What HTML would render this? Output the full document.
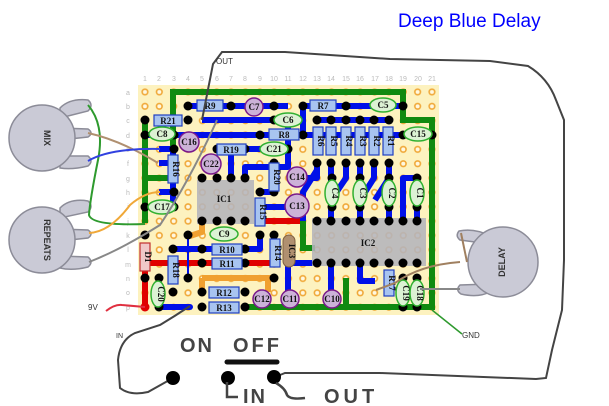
<!DOCTYPE html>
<html><head><meta charset="utf-8"><style>
html,body{margin:0;padding:0;background:#fff;width:609px;height:406px;overflow:hidden}
svg{display:block}
.r{fill:#a8c4f0;stroke:#2040c0;stroke-width:1.2}
.c{fill:#dcf2d4;stroke:#30b030;stroke-width:1.5}
.e{fill:#ccb2d8;stroke:#7a1a8a;stroke-width:1.5}
.t{font-family:"Liberation Serif",serif;font-size:9px;font-weight:bold;fill:#111;text-anchor:middle}
.p{fill:#000}
.n{font-family:"Liberation Sans",sans-serif;font-size:7px;fill:#bbb;text-anchor:middle}
.pot{fill:#cacad6;stroke:#8c8c98;stroke-width:1.5}
.bl{stroke:#0010e8;stroke-width:6;fill:none;stroke-linejoin:round}
.gr{stroke:#108a10;stroke-width:6;fill:none}
.rd{stroke:#e00000;stroke-width:6;fill:none}
.or{stroke:#f0a030;stroke-width:6;fill:none}
.w{fill:none;stroke-width:2}
</style></head><body>
<svg width="609" height="406" viewBox="0 0 609 406" xmlns="http://www.w3.org/2000/svg">
<defs>
<pattern id="h" x="137.8" y="84.8" width="14.35" height="14.35" patternUnits="userSpaceOnUse">
<rect width="14.35" height="14.35" fill="#fdf2bf"/>
<circle cx="7.17" cy="7.17" r="2.8" fill="#fff8e0" stroke="#f0a838" stroke-width="1.6"/>
</pattern>
</defs>
<text x="398" y="27" font-family="'Liberation Sans',sans-serif" font-size="19" fill="#0000ff">Deep Blue Delay</text>

<rect x="138" y="85" width="301" height="230" fill="url(#h)"/>
<g class="n">
<text x="145" y="81">1</text><text x="159" y="81">2</text><text x="174" y="81">3</text><text x="188" y="81">4</text><text x="202" y="81">5</text><text x="217" y="81">6</text><text x="231" y="81">7</text><text x="245" y="81">8</text><text x="260" y="81">9</text><text x="274" y="81">10</text><text x="288" y="81">11</text><text x="303" y="81">12</text><text x="317" y="81">13</text><text x="331" y="81">14</text><text x="346" y="81">15</text><text x="360" y="81">16</text><text x="375" y="81">17</text><text x="389" y="81">18</text><text x="403" y="81">19</text><text x="418" y="81">20</text><text x="432" y="81">21</text>
<text x="128" y="95">a</text><text x="128" y="109">b</text><text x="128" y="123">c</text><text x="128" y="138">d</text><text x="128" y="152">e</text><text x="128" y="166">f</text><text x="128" y="181">g</text><text x="128" y="195">h</text><text x="128" y="209">i</text><text x="128" y="224">j</text><text x="128" y="238">k</text><text x="128" y="252">l</text><text x="128" y="267">m</text><text x="128" y="281">n</text><text x="128" y="295">o</text><text x="128" y="310">p</text>
</g>

<path class="gr" d="M173,110 V92 H403 V120 H432 V307 H243"/>
<path class="gr" d="M173,92 V178 H145"/>
<path class="gr" d="M145,120 V223"/>
<path class="gr" d="M303,200 V248 H315"/>
<path class="gr" d="M346,278 V307"/>
<path class="rd" d="M145,263 H278"/>
<path class="rd" d="M145,268 V307"/>
<path class="rd" d="M258,221 H297 V210"/>
<path class="or" d="M202,278 H268 V292"/>
<path class="or" d="M202,278 V292"/>
<path class="or" d="M202,222 V232 L190,236"/>
<g class="bl">
<path d="M188,106 H288"/>
<path d="M202,120 H288"/>
<path d="M145,135 H403"/>
<path d="M303,106 H403"/>
<path d="M303,106 V135"/>
<path d="M317,120 H389"/>
<path d="M173,149 V207"/>
<path d="M159,149 H173"/>
<path d="M159,163 H173"/>
<path d="M159,192 H173"/>
<path d="M231,149 V178"/>
<path d="M245,149 H288"/>
<path d="M288,120 V167 H245 V178"/>
<path d="M274,163 V192 H260"/>
<path d="M288,178 H317 V163"/>
<path d="M317,163 V170 L303,192 V221"/>
<path d="M331,163 V221"/>
<path d="M346,163 V178 L331,200"/>
<path d="M360,163 V221"/>
<path d="M374,163 V178 L360,200"/>
<path d="M389,163 V221"/>
<path d="M417,178 H403 V221"/>
<path d="M417,178 V221"/>
<path d="M297,198 L285,207 H260"/>
<path d="M173,249 H260 V235"/>
<path d="M159,307 H190"/>
<path d="M293,263 H317"/>
<path d="M288,250 V300"/>
<path d="M331,263 V300"/>
<path d="M360,263 V281 H375"/>
<path d="M389,178 L375,200"/>
</g>
<path d="M188,235 V278" stroke="#0010e8" stroke-width="2"/>

<rect x="197" y="180" width="57" height="44" fill="#b4b4bc" opacity=".88"/>
<text x="224" y="202" class="t" font-size="11">IC1</text>
<rect x="312" y="218" width="114" height="48" fill="#b4b4bc" opacity=".88"/>
<text x="368" y="246" class="t" font-size="11">IC2</text>
<rect x="283" y="235" width="12" height="32" rx="6" fill="#b09070" stroke="#806040"/>
<text x="289" y="251" class="t" transform="rotate(90 289 251)" font-size="8">IC3</text>

<g class="p">
<circle cx="202" cy="178" r="4.5"/><circle cx="217" cy="178" r="4.5"/><circle cx="231" cy="178" r="4.5"/><circle cx="245" cy="178" r="4.5"/>
<circle cx="202" cy="221" r="4.5"/><circle cx="217" cy="221" r="4.5"/><circle cx="231" cy="221" r="4.5"/><circle cx="245" cy="221" r="4.5"/>
<circle cx="317" cy="221" r="4.5"/><circle cx="331" cy="221" r="4.5"/><circle cx="346" cy="221" r="4.5"/><circle cx="360" cy="221" r="4.5"/><circle cx="374" cy="221" r="4.5"/><circle cx="389" cy="221" r="4.5"/><circle cx="403" cy="221" r="4.5"/><circle cx="417" cy="221" r="4.5"/>
<circle cx="317" cy="263" r="4.5"/><circle cx="331" cy="263" r="4.5"/><circle cx="346" cy="263" r="4.5"/><circle cx="360" cy="263" r="4.5"/><circle cx="374" cy="263" r="4.5"/><circle cx="389" cy="263" r="4.5"/><circle cx="403" cy="263" r="4.5"/><circle cx="417" cy="263" r="4.5"/>
<circle cx="188" cy="106" r="4.5"/><circle cx="231" cy="106" r="4.5"/><circle cx="274" cy="106" r="4.5"/>
<circle cx="303" cy="106" r="4.5"/><circle cx="346" cy="106" r="4.5"/><circle cx="403" cy="106" r="4.5"/>
<circle cx="145" cy="120" r="4.5"/><circle cx="188" cy="120" r="4.5"/><circle cx="274" cy="120" r="4.5"/>
<circle cx="145" cy="135" r="4.5"/><circle cx="174" cy="135" r="4.5"/><circle cx="260" cy="135" r="4.5"/><circle cx="303" cy="135" r="4.5"/><circle cx="403" cy="135" r="4.5"/><circle cx="432" cy="135" r="4.5"/>
<circle cx="317" cy="120" r="4.5"/><circle cx="331" cy="120" r="4.5"/><circle cx="346" cy="120" r="4.5"/><circle cx="360" cy="120" r="4.5"/><circle cx="374" cy="120" r="4.5"/><circle cx="389" cy="120" r="4.5"/>
<circle cx="317" cy="163" r="4.5"/><circle cx="331" cy="163" r="4.5"/><circle cx="346" cy="163" r="4.5"/><circle cx="360" cy="163" r="4.5"/><circle cx="374" cy="163" r="4.5"/><circle cx="389" cy="163" r="4.5"/>
<circle cx="174" cy="149" r="4.5"/><circle cx="174" cy="192" r="4.5"/><circle cx="217" cy="149" r="4.5"/><circle cx="245" cy="149" r="4.5"/><circle cx="288" cy="149" r="4.5"/>
<circle cx="274" cy="163" r="4.5"/><circle cx="274" cy="192" r="4.5"/><circle cx="260" cy="192" r="4.5"/><circle cx="260" cy="235" r="4.5"/>
<circle cx="145" cy="207" r="4.5"/><circle cx="174" cy="207" r="4.5"/>
<circle cx="332" cy="178" r="4.5"/><circle cx="360" cy="178" r="4.5"/><circle cx="389" cy="178" r="4.5"/><circle cx="417" cy="178" r="4.5"/>
<circle cx="332" cy="207" r="4.5"/><circle cx="360" cy="207" r="4.5"/><circle cx="389" cy="207" r="4.5"/><circle cx="417" cy="207" r="4.5"/>
<circle cx="188" cy="235" r="4.5"/><circle cx="274" cy="235" r="4.5"/>
<circle cx="202" cy="249" r="4.5"/><circle cx="245" cy="249" r="4.5"/><circle cx="173" cy="249" r="4.5"/>
<circle cx="202" cy="263" r="4.5"/><circle cx="245" cy="263" r="4.5"/>
<circle cx="145" cy="235" r="4.5"/><circle cx="145" cy="278" r="4.5"/>
<circle cx="188" cy="278" r="4.5"/><circle cx="274" cy="278" r="4.5"/><circle cx="159" cy="278" r="4.5"/><circle cx="173" cy="292" r="4.5"/>
<circle cx="202" cy="292" r="4.5"/><circle cx="245" cy="292" r="4.5"/>
<circle cx="159" cy="307" r="4.5"/><circle cx="202" cy="307" r="4.5"/><circle cx="245" cy="307" r="4.5"/>
<circle cx="403" cy="278" r="4.5"/><circle cx="417" cy="278" r="4.5"/><circle cx="403" cy="307" r="4.5"/><circle cx="417" cy="307" r="4.5"/>
</g>
<circle cx="145" cy="307" r="4.5" fill="#e00000"/>
<circle cx="190" cy="307" r="3" fill="#0010e8"/>

<g>
<rect class="r" x="197" y="100" width="26" height="11"/><text class="t" x="210" y="109">R9</text>
<rect class="r" x="154" y="115" width="28" height="11"/><text class="t" x="168" y="124">R21</text>
<rect class="r" x="269" y="129" width="30" height="11"/><text class="t" x="284" y="138">R8</text>
<rect class="r" x="310" y="100" width="26" height="11"/><text class="t" x="323" y="109">R7</text>
<rect class="r" x="217" y="144" width="29" height="11"/><text class="t" x="231" y="153">R19</text>
<rect class="r" x="212" y="244" width="30" height="11"/><text class="t" x="227" y="253">R10</text>
<rect class="r" x="212" y="258" width="30" height="11"/><text class="t" x="227" y="267">R11</text>
<rect class="r" x="209" y="287" width="30" height="11"/><text class="t" x="224" y="296">R12</text>
<rect class="r" x="209" y="302" width="30" height="11"/><text class="t" x="224" y="311">R13</text>
</g>
<g>
<rect class="r" x="313" y="127" width="10" height="28"/><text class="t" x="318" y="141" transform="rotate(90 318 141)">R6</text>
<rect class="r" x="326" y="127" width="10" height="28"/><text class="t" x="331" y="141" transform="rotate(90 331 141)">R5</text>
<rect class="r" x="341" y="127" width="10" height="28"/><text class="t" x="346" y="141" transform="rotate(90 346 141)">R4</text>
<rect class="r" x="355" y="127" width="10" height="28"/><text class="t" x="360" y="141" transform="rotate(90 360 141)">R3</text>
<rect class="r" x="369" y="127" width="10" height="28"/><text class="t" x="374" y="141" transform="rotate(90 374 141)">R2</text>
<rect class="r" x="383" y="127" width="10" height="28"/><text class="t" x="388" y="141" transform="rotate(90 388 141)">R1</text>
<rect class="r" x="168" y="155" width="10" height="28"/><text class="t" x="173" y="169" transform="rotate(90 173 169)">R16</text>
<rect class="r" x="269" y="163" width="10" height="28"/><text class="t" x="274" y="177" transform="rotate(90 274 177)">R20</text>
<rect class="r" x="255" y="198" width="10" height="28"/><text class="t" x="260" y="212" transform="rotate(90 260 212)">R15</text>
<rect class="r" x="270" y="239" width="10" height="28"/><text class="t" x="275" y="253" transform="rotate(90 275 253)">R14</text>
<rect class="r" x="168" y="256" width="10" height="28"/><text class="t" x="173" y="270" transform="rotate(90 173 270)">R18</text>
<rect class="r" x="384" y="270" width="10" height="26"/><text class="t" x="389" y="283" transform="rotate(90 389 283)">R17</text>
<rect x="140" y="243" width="10" height="28" fill="#f0c8c8" stroke="#c03030" stroke-width="1.2"/><text class="t" x="145" y="257" transform="rotate(90 145 257)">D1</text>
</g>
<g>
<ellipse class="c" cx="162" cy="134" rx="13" ry="7"/><text class="t" x="162" y="137">C8</text>
<ellipse class="c" cx="288" cy="120" rx="14" ry="7"/><text class="t" x="288" y="123">C6</text>
<ellipse class="c" cx="383" cy="105" rx="13" ry="7"/><text class="t" x="383" y="108">C5</text>
<ellipse class="c" cx="418" cy="134" rx="14" ry="7"/><text class="t" x="418" y="137">C15</text>
<ellipse class="c" cx="274" cy="149" rx="14" ry="7"/><text class="t" x="274" y="152">C21</text>
<ellipse class="c" cx="162" cy="207" rx="14" ry="7"/><text class="t" x="162" y="210">C17</text>
<ellipse class="c" cx="224" cy="234" rx="14" ry="7"/><text class="t" x="224" y="237">C9</text>
<ellipse class="c" cx="332" cy="193" rx="7" ry="13"/><text class="t" x="332" y="193" transform="rotate(90 332 193)">C4</text>
<ellipse class="c" cx="360" cy="193" rx="7" ry="13"/><text class="t" x="360" y="193" transform="rotate(90 360 193)">C3</text>
<ellipse class="c" cx="389" cy="193" rx="7" ry="13"/><text class="t" x="389" y="193" transform="rotate(90 389 193)">C2</text>
<ellipse class="c" cx="417" cy="193" rx="7" ry="13"/><text class="t" x="417" y="193" transform="rotate(90 417 193)">C1</text>
<ellipse class="c" cx="158" cy="294" rx="7" ry="13"/><text class="t" x="158" y="294" transform="rotate(90 158 294)">C20</text>
<ellipse class="c" cx="403" cy="293" rx="7" ry="13"/><text class="t" x="403" y="293" transform="rotate(90 403 293)">C19</text>
<ellipse class="c" cx="417" cy="293" rx="7" ry="13"/><text class="t" x="417" y="293" transform="rotate(90 417 293)">C18</text>
<circle class="e" cx="254" cy="107" r="9"/><text class="t" x="254" y="110">C7</text>
<circle class="e" cx="189" cy="142" r="10"/><text class="t" x="189" y="145">C16</text>
<circle class="e" cx="211" cy="164" r="10"/><text class="t" x="211" y="167">C22</text>
<circle class="e" cx="297" cy="177" r="10"/><text class="t" x="297" y="180">C14</text>
<circle class="e" cx="297" cy="206" r="12"/><text class="t" x="297" y="209">C13</text>
<circle class="e" cx="262" cy="299" r="9"/><text class="t" x="262" y="302">C12</text>
<circle class="e" cx="290" cy="299" r="9"/><text class="t" x="290" y="302">C11</text>
<circle class="e" cx="332" cy="299" r="9"/><text class="t" x="332" y="302">C10</text>
</g>

<g>
<path class="pot" d="M60,108 Q70,98 88,100 Q94,105 88,111 L60,118Z"/>
<path class="pot" d="M60,128 L88,129 Q94,133 88,137 L60,140Z"/>
<path class="pot" d="M60,156 L88,156 Q94,161 88,166 Q72,170 60,168Z"/>
<circle class="pot" cx="42" cy="138" r="33"/>
<text x="44" y="138" transform="rotate(90 44 138)" font-family="'Liberation Sans',sans-serif" font-size="9" font-weight="bold" fill="#333" text-anchor="middle">MIX</text>
<path class="pot" d="M60,208 Q70,198 88,201 Q94,206 88,212 L60,218Z"/>
<path class="pot" d="M60,229 L88,230 Q94,234 88,238 L60,241Z"/>
<path class="pot" d="M60,256 L88,257 Q94,262 88,267 Q72,271 60,268Z"/>
<circle class="pot" cx="42" cy="240" r="33"/>
<text x="44" y="240" transform="rotate(90 44 240)" font-family="'Liberation Sans',sans-serif" font-size="9" font-weight="bold" fill="#333" text-anchor="middle">REPEATS</text>
<path class="pot" d="M490,236 Q475,228 459,231 Q455,236 460,240 L490,244Z"/>
<path class="pot" d="M490,284 L460,285 Q455,290 461,294 Q478,298 490,292Z"/>
<circle class="pot" cx="503" cy="262" r="35"/>
<text x="505" y="262" transform="rotate(-90 505 262)" font-family="'Liberation Sans',sans-serif" font-size="9" font-weight="bold" fill="#333" text-anchor="middle">DELAY</text>
</g>

<path class="w" stroke="#2e9a2e" d="M88,105 Q105,125 98,160 Q90,200 89,215 Q92,226 145,224"/>
<path class="w" stroke="#b09070" d="M88,133 Q120,140 158,163"/>
<path class="w" stroke="#3040e0" d="M88,161 Q110,148 160,149"/>
<path class="w" stroke="#f0a838" d="M89,233 Q110,232 130,205 Q145,192 160,192"/>
<path class="w" stroke="#888" d="M89,262 Q120,250 160,225 Q190,180 217,120"/>
<path class="w" stroke="#a08060" d="M460,262 Q420,265 395,283 L376,290"/>
<path class="w" stroke="#a08060" d="M461,233 L467,262"/>
<path class="w" stroke="#888" d="M460,289 H420"/>
<path class="w" stroke="#444" d="M202,120 L213,64 L222,52 H285 L390,59 L490,61 L528,66 Q548,78 556,100 L564,120 V260 L562,310 L552,350 L546,378 L536,379 L380,373 H285 L275,377"/>
<path class="w" stroke="#444" d="M190,306 Q175,316 160,325 L135,333 Q120,340 118,360 L120,388 Q130,396 148,392 L173,378"/>
<path class="w" stroke="#e03040" d="M106,311 Q115,304 122,305 L145,307"/>
<path stroke="#2e9a2e" stroke-width="1.5" fill="none" d="M432,310 L462,334"/>
<g font-family="'Liberation Sans',sans-serif" font-size="8" fill="#333">
<text x="88" y="310">9V</text><text x="462" y="338">GND</text><text x="116" y="338" font-size="7">IN</text><text x="216" y="64" font-size="8">OUT</text>
</g>

<g font-family="'Liberation Sans','DejaVu Sans',sans-serif" font-weight="bold" font-size="20" fill="#444">
<text x="180" y="352" letter-spacing="2">ON</text><text x="233" y="352" letter-spacing="3">OFF</text>
<text x="243" y="403" letter-spacing="2">IN</text><text x="324" y="403" letter-spacing="4">OUT</text>
</g>
<path d="M227,362 H277" stroke="#111" stroke-width="5" stroke-linecap="round"/>
<circle cx="173" cy="378" r="7" fill="#000"/><circle cx="228" cy="378" r="7" fill="#000"/><circle cx="274" cy="377" r="7" fill="#000"/>
<path d="M227,382 V397 H238" stroke="#444" stroke-width="2.5" fill="none"/>
<path d="M276,383 Q285,388 287,395 Q290,400 305,398" stroke="#444" stroke-width="2.5" fill="none"/>
</svg>
</body></html>
